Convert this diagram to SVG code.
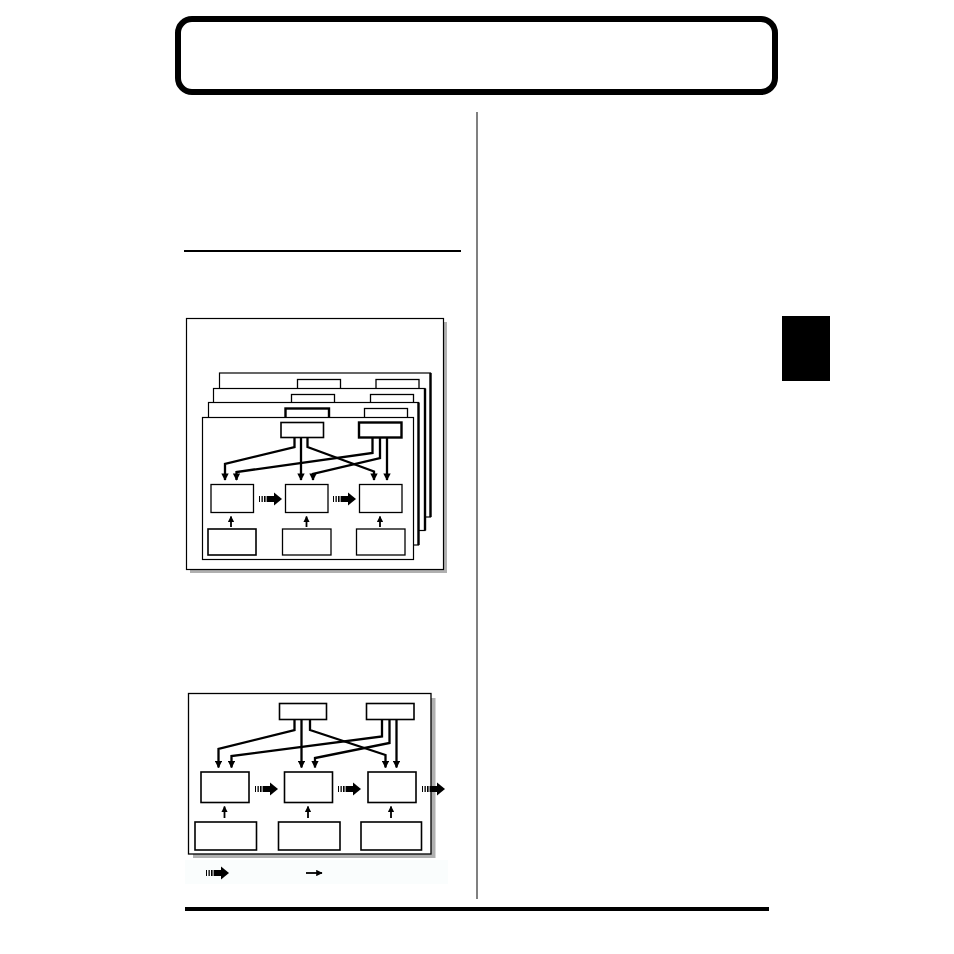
<svg xmlns="http://www.w3.org/2000/svg" width="954" height="954" viewBox="0 0 954 954">
<style>
.box{fill:#fff;stroke:#000;stroke-width:1.3}
.tbox{fill:#fff;stroke:#000;stroke-width:1.6}
.thick{fill:#fff;stroke:#000;stroke-width:2.4}
.frame{fill:#fff;stroke:#000;stroke-width:1.2}
.conn{fill:none;stroke:#000;stroke-width:2.3;stroke-linejoin:miter}
.thin{fill:none;stroke:#000;stroke-width:1.8}
</style>
<defs>
<marker id="ah" viewBox="0 0 10 10" refX="9" refY="5" markerWidth="3.4" markerHeight="3.2" orient="auto" markerUnits="strokeWidth">
<path d="M0,0 L10,5 L0,10 z" fill="#000"/>
</marker>
<marker id="ahs" viewBox="0 0 10 10" refX="9" refY="5" markerWidth="3.6" markerHeight="3.6" orient="auto" markerUnits="strokeWidth">
<path d="M0,0 L10,5 L0,10 z" fill="#000"/>
</marker>
<g id="fat">
<rect x="0" y="-3" width="1" height="6" fill="#000"/>
<rect x="2.5" y="-3" width="1.3" height="6" fill="#000"/>
<rect x="5" y="-3" width="1.6" height="6" fill="#000"/>
<rect x="7.6" y="-3" width="8" height="6" fill="#000"/>
<path d="M15,-6.5 L23,0 L15,6.5 z" fill="#000"/>
</g>
</defs>
<rect width="954" height="954" fill="#fff"/>

<!-- page furniture -->
<g id="title">
<rect x="178" y="19" width="597" height="73" rx="14" ry="14" fill="#fff" stroke="#000" stroke-width="6"/>
</g>
<g id="tab"><rect x="782" y="316" width="48" height="65" fill="#000"/></g>
<g id="rule"><line x1="184" y1="251" x2="461" y2="251" stroke="#000" stroke-width="2.2"/></g>
<g id="divider"><line x1="477" y1="112" x2="477" y2="899" stroke="#808080" stroke-width="2"/></g>
<g id="footer"><line x1="185" y1="909" x2="769" y2="909" stroke="#000" stroke-width="4"/></g>

<!-- Diagram 1 -->
<g id="diagram1">
<rect x="190" y="322" width="257" height="251" fill="#b0b0b0"/>
<rect x="186.5" y="318.5" width="257" height="251" fill="#fff" stroke="#000" stroke-width="1.2"/>

<g id="frame4">
<rect x="219.5" y="373" width="211" height="144" class="frame"/>
<line x1="430.5" y1="373" x2="430.5" y2="517" stroke="#000" stroke-width="2.4"/>
<rect x="297.5" y="379.5" width="43" height="12" class="box"/>
<rect x="376" y="379.5" width="43" height="12" class="box"/>
</g>
<g id="frame3">
<rect x="213.5" y="388.5" width="211.5" height="142" class="frame"/>
<line x1="425" y1="388.5" x2="425" y2="530.5" stroke="#000" stroke-width="2.4"/>
<rect x="291.5" y="394.5" width="43" height="12" class="box"/>
<rect x="370.5" y="394.5" width="43" height="12" class="box"/>
</g>
<g id="frame2">
<rect x="208.5" y="402.5" width="210" height="142.5" class="frame"/>
<line x1="418.5" y1="402.5" x2="418.5" y2="545" stroke="#000" stroke-width="2.4"/>
<rect x="285.5" y="408.5" width="43.5" height="12" class="thick"/>
<rect x="364.5" y="408.5" width="43" height="12" class="box"/>
</g>
<g id="frame1">
<rect x="202.5" y="417.5" width="211" height="142" class="frame"/>
</g>
<g id="d1-src1"><rect x="281" y="422.5" width="42.5" height="15" class="tbox"/></g>
<g id="d1-src2"><rect x="359" y="422.5" width="42.5" height="15" class="thick"/></g>
<g id="d1-procA"><rect x="211" y="484.5" width="42.5" height="28" class="box"/></g>
<g id="d1-procB"><rect x="285.5" y="484.5" width="42.5" height="28" class="box"/></g>
<g id="d1-procC"><rect x="359.5" y="484.5" width="42.5" height="28" class="box"/></g>
<g id="d1-inA"><rect x="208" y="529" width="48" height="26" class="tbox"/></g>
<g id="d1-inB"><rect x="282.5" y="529" width="48.5" height="26" class="box"/></g>
<g id="d1-inC"><rect x="356.5" y="529" width="48.5" height="26" class="box"/></g>

<g id="d1-connectors">
<path class="conn" marker-end="url(#ah)" d="M294.5,437.5 V447 L225,464 V480"/>
<path class="conn" marker-end="url(#ah)" d="M301,437.5 V480"/>
<path class="conn" marker-end="url(#ah)" d="M307.5,437.5 V447 L374,471.5 V480"/>
<path class="conn" marker-end="url(#ah)" d="M372.5,437.5 V453 L236.5,472 V480"/>
<path class="conn" marker-end="url(#ah)" d="M380,437.5 V458 L313,474 V480"/>
<path class="conn" marker-end="url(#ah)" d="M387,437.5 V480"/>
<path class="thin" marker-end="url(#ahs)" d="M231,527 V516.5"/>
<path class="thin" marker-end="url(#ahs)" d="M306.5,527 V516.5"/>
<path class="thin" marker-end="url(#ahs)" d="M380,527 V516.5"/>
<use href="#fat" x="259" y="499"/>
<use href="#fat" x="333" y="499"/>
</g>
</g>

<!-- Diagram 2 -->
<g id="diagram2">
<rect x="193" y="698" width="242.5" height="160" fill="#b0b0b0"/>
<rect x="188.5" y="693.5" width="242.5" height="160.5" fill="#fff" stroke="#000" stroke-width="1.3"/>
<g id="d2-src1"><rect x="279.5" y="703.5" width="47" height="16" class="tbox"/></g>
<g id="d2-src2"><rect x="366.5" y="703.5" width="47.5" height="16" class="tbox"/></g>
<g id="d2-procA"><rect x="201" y="772" width="48" height="30.5" class="tbox"/></g>
<g id="d2-procB"><rect x="284.5" y="772" width="48" height="30.5" class="tbox"/></g>
<g id="d2-procC"><rect x="368" y="772" width="48" height="30.5" class="tbox"/></g>
<g id="d2-inA"><rect x="195" y="822" width="61.5" height="28" class="tbox"/></g>
<g id="d2-inB"><rect x="278.5" y="822" width="61.5" height="28" class="tbox"/></g>
<g id="d2-inC"><rect x="361" y="822" width="60.5" height="28" class="tbox"/></g>
<g id="d2-connectors">
<path class="conn" marker-end="url(#ah)" d="M294.5,719.5 V730 L218.5,749 V767.5"/>
<path class="conn" marker-end="url(#ah)" d="M301.5,719.5 V767.5"/>
<path class="conn" marker-end="url(#ah)" d="M310,719.5 V730 L385.5,755 V767.5"/>
<path class="conn" marker-end="url(#ah)" d="M382,719.5 V736.5 L231.5,756 V767.5"/>
<path class="conn" marker-end="url(#ah)" d="M389.5,719.5 V743 L315,758 V767.5"/>
<path class="conn" marker-end="url(#ah)" d="M396.5,719.5 V767.5"/>
<path class="thin" marker-end="url(#ahs)" d="M224.5,818 V806.5"/>
<path class="thin" marker-end="url(#ahs)" d="M308,818 V806.5"/>
<path class="thin" marker-end="url(#ahs)" d="M391,818 V806.5"/>
<use href="#fat" x="255" y="789"/>
<use href="#fat" x="338" y="789"/>
<use href="#fat" x="422" y="789"/>
</g>
</g>

<!-- legend -->
<g id="legend">
<rect x="185" y="860" width="263" height="24" fill="#fafdfd"/>
<use href="#fat" x="206" y="873"/>
<path class="thin" marker-end="url(#ahs)" d="M306,873 H322"/>
</g>
</svg>
